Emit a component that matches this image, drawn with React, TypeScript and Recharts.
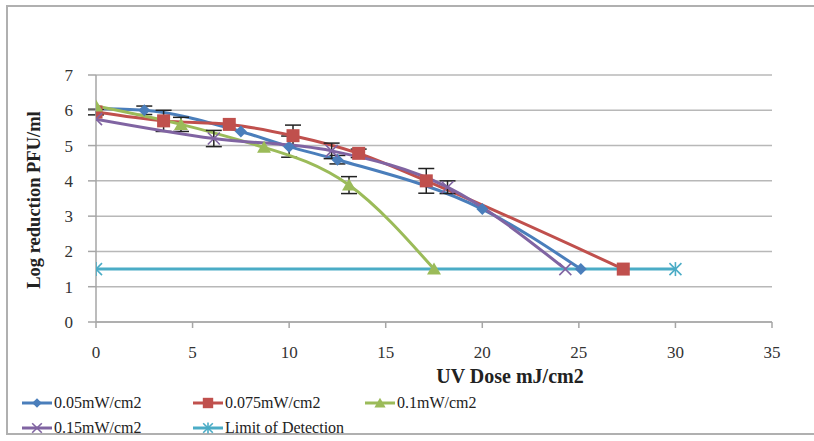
import React from 'react';
import { LineChart, Line, XAxis, YAxis, CartesianGrid, ErrorBar, Label } from 'recharts';

// dose (mJ/cm2), log reduction, error
const dose005 = [0, 2.5, 7.5, 10, 12.5, 20, 25.1];
const red005 = [6.05, 6.0, 5.4, 4.97, 4.6, 3.2, 1.5];
const err005 = [0, 0.12, 0, 0.3, 0.12, 0, 0];

const dose0075 = [0, 3.5, 6.9, 10.2, 13.6, 17.1, 27.3];
const red0075 = [5.95, 5.7, 5.6, 5.28, 4.78, 4.0, 1.5];
const err0075 = [0.08, 0.3, 0, 0.3, 0.12, 0.35, 0];

const dose01 = [0, 4.4, 8.7, 13.1, 17.5];
const red01 = [6.12, 5.6, 4.95, 3.88, 1.5];
const err01 = [0, 0.2, 0, 0.24, 0];

const dose015 = [0, 6.1, 12.2, 18.2, 24.3];
const red015 = [5.75, 5.2, 4.85, 3.82, 1.5];
const err015 = [0, 0.23, 0.22, 0.18, 0];

const doseLod = [0, 30];
const lod = [1.5, 1.5];

const xTicks = [0, 5, 10, 15, 20, 25, 30, 35];
const yTicks = [0, 1, 2, 3, 4, 5, 6, 7];

const FONT = '"Liberation Serif", "DejaVu Serif", serif';

const toRows = (xs: number[], ys: number[], es?: number[]) =>
  xs.map((x, i) => ({ x, y: ys[i], err: es ? es[i] : 0 }));

type Shape = 'diamond' | 'square' | 'triangle' | 'cross' | 'star';

const series: { name: string; color: string; shape: Shape; data: any[]; errors: boolean }[] = [
  { name: '0.05mW/cm2', color: '#4A7EBB', shape: 'diamond', data: toRows(dose005, red005, err005), errors: true },
  { name: '0.075mW/cm2', color: '#C0504D', shape: 'square', data: toRows(dose0075, red0075, err0075), errors: true },
  { name: '0.1mW/cm2', color: '#9BBB59', shape: 'triangle', data: toRows(dose01, red01, err01), errors: true },
  { name: '0.15mW/cm2', color: '#8064A2', shape: 'cross', data: toRows(dose015, red015, err015), errors: true },
  { name: 'Limit of Detection', color: '#4BACC6', shape: 'star', data: toRows(doseLod, lod), errors: false },
];

const Marker = ({ shape, cx, cy, color, s = 1 }: { shape: Shape; cx: number; cy: number; color: string; s?: number }) => {
  switch (shape) {
    case 'diamond':
      return <polygon points={`${cx},${cy - 6 * s} ${cx + 6 * s},${cy} ${cx},${cy + 6 * s} ${cx - 6 * s},${cy}`} fill={color} />;
    case 'square':
      return <rect x={cx - 6.5 * s} y={cy - 6.5 * s} width={13 * s} height={13 * s} fill={color} />;
    case 'triangle':
      return <polygon points={`${cx},${cy - 6.5 * s} ${cx + 7 * s},${cy + 5.5 * s} ${cx - 7 * s},${cy + 5.5 * s}`} fill={color} />;
    case 'cross':
      return (
        <g stroke={color} strokeWidth={1.6}>
          <line x1={cx - 6 * s} y1={cy - 6 * s} x2={cx + 6 * s} y2={cy + 6 * s} />
          <line x1={cx - 6 * s} y1={cy + 6 * s} x2={cx + 6 * s} y2={cy - 6 * s} />
        </g>
      );
    default:
      return (
        <g stroke={color} strokeWidth={1.6}>
          <line x1={cx - 6 * s} y1={cy - 6 * s} x2={cx + 6 * s} y2={cy + 6 * s} />
          <line x1={cx - 6 * s} y1={cy + 6 * s} x2={cx + 6 * s} y2={cy - 6 * s} />
          <line x1={cx} y1={cy - 7 * s} x2={cx} y2={cy + 7 * s} />
        </g>
      );
  }
};

const legendPos = [
  { left: 22, top: 393 },
  { left: 193, top: 393 },
  { left: 365, top: 393 },
  { left: 22, top: 418 },
  { left: 193, top: 418 },
];

export default function App() {
  return (
    <div style={{ position: 'absolute', left: 0, top: 0, width: 814, height: 441, background: '#fff', overflow: 'hidden' }}>
      <div style={{ position: 'absolute', left: 6, top: 5, width: 830, height: 430, border: '2px solid #b0b0b0', boxSizing: 'border-box' }} />
      <div style={{ position: 'absolute', left: 0, top: 0 }}>
        <LineChart width={814} height={441} margin={{ top: 75, right: 42, left: 0, bottom: 59 }}>
          <CartesianGrid vertical={false} stroke="#b8b8b8" strokeWidth={1.5} />
          <XAxis
            type="number"
            dataKey="x"
            domain={[0, 35]}
            ticks={xTicks}
            height={60}
            allowDataOverflow
            stroke="#a6a6a6"
            strokeWidth={1.5}
            tickSize={6}
            tickMargin={18}
            tick={{ fill: '#333', fontSize: 17, fontFamily: FONT }}
          >
            <Label
              content={() => (
                <text
                  x={510}
                  y={378}
                  textAnchor="middle"
                  dominantBaseline="middle"
                  style={{ fontFamily: FONT, fontSize: 20, fontWeight: 'bold', fill: '#222' }}
                >
                  UV Dose mJ/cm2
                </text>
              )}
            />
          </XAxis>
          <YAxis
            type="number"
            domain={[0, 7]}
            ticks={yTicks}
            width={96}
            stroke="#a6a6a6"
            strokeWidth={1.5}
            tickSize={8}
            tickMargin={15}
            tick={{ fill: '#333', fontSize: 17, fontFamily: FONT }}
          >
            <Label
              content={() => (
                <text
                  x={36}
                  y={200}
                  transform="rotate(-90 36 200)"
                  textAnchor="middle"
                  dominantBaseline="middle"
                  style={{ fontFamily: FONT, fontSize: 18.5, fontWeight: 'bold', fill: '#222' }}
                >
                  Log reduction PFU/ml
                </text>
              )}
            />
          </YAxis>
          {series.map((s) => (
            <Line
              key={s.name}
              data={s.data}
              dataKey="y"
              name={s.name}
              type={s.shape === 'triangle' ? 'natural' : 'monotone'}
              stroke={s.color}
              strokeWidth={3}
              isAnimationActive={false}
              dot={(p: any) => <Marker key={`${s.name}-${p.index}`} shape={s.shape} cx={p.cx} cy={p.cy} color={s.color} />}
              activeDot={false}
            >
              {s.errors && <ErrorBar dataKey="err" direction="y" width={8} stroke="#222" strokeWidth={1.5} />}
            </Line>
          ))}
        </LineChart>
      </div>
      {series.map((s, i) => (
        <div
          key={s.name}
          style={{
            position: 'absolute',
            left: legendPos[i].left,
            top: legendPos[i].top,
            display: 'flex',
            alignItems: 'center',
            fontFamily: FONT,
            fontSize: 16,
            color: '#222',
            whiteSpace: 'nowrap',
          }}
        >
          <svg width={30} height={20} style={{ marginRight: 2 }}>
            <line x1={0} y1={10} x2={30} y2={10} stroke={s.color} strokeWidth={3} />
            <Marker shape={s.shape} cx={15} cy={10} color={s.color} s={0.8} />
          </svg>
          {s.name}
        </div>
      ))}
    </div>
  );
}
